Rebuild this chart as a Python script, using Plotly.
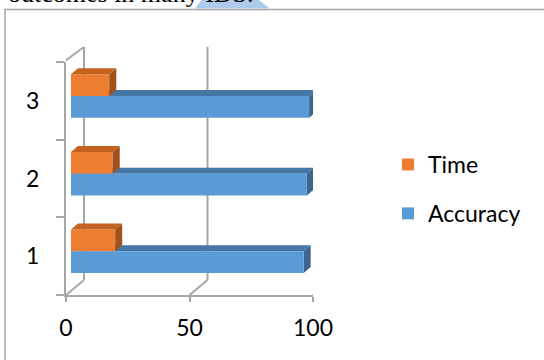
import plotly.graph_objects as go

# ---------------- data ----------------
categories = [1, 2, 3]
cat_labels = ["1", "2", "3"]
accuracy = [94.2, 95.5, 96.4]
time_vals = [17.9, 16.9, 15.5]
x_ticks = [0, 50, 100]
x_tick_labels = ["0", "50", "100"]

# ---------------- geometry ----------------
W, H = 544, 360
L, R, T, B = 66, 313, 62, 295          # plot area in pixels
XR = (0, 100)
YR = (0.5, 3.5)
sx = (R - L) / (XR[1] - XR[0])          # px per x unit
sy = (B - T) / (YR[1] - YR[0])          # px per y unit


def px(xp):
    return (xp - L) / (R - L)


def py(yp):
    return (B - yp) / (B - T)


BAR_SHIFT = 5 / sx        # bars sit a little behind the front plane
BAR_W = 0.28
TIME_OFF = 0.062
ACC_OFF = TIME_OFF - BAR_W
DX, DY = 7, 6             # bar depth (px)
WALL_DX, WALL_DY = 18, 15  # wall depth (px)
GRID = "#A6A6A6"
FONT = "Lato"

fig = go.Figure()

fig.add_trace(go.Bar(
    name="Time", y=categories, x=time_vals, orientation="h",
    xaxis="x2", yaxis="y", offset=TIME_OFF, width=BAR_W,
    marker=dict(color="#ED7D31", line=dict(width=0)),
    legendgroup="time", hoverinfo="skip"))
fig.add_trace(go.Bar(
    name="Accuracy", y=categories, x=accuracy, orientation="h",
    xaxis="x2", yaxis="y", offset=ACC_OFF, width=BAR_W,
    marker=dict(color="#5B9BD5", line=dict(width=0)),
    legendgroup="acc", hoverinfo="skip"))

shapes = []

# chart frame
shapes.append(dict(type="rect", xref="paper", yref="paper",
                   x0=px(5), x1=px(W + 20), y0=py(9.5), y1=py(H + 20),
                   line=dict(color="#A6A6A6", width=1.5), fillcolor="rgba(0,0,0,0)",
                   layer="below"))

# document highlight above the chart
shapes.append(dict(type="path", xref="paper", yref="paper",
                   path="M {},{} L {},{} L {},{} L {},{} Z".format(
                       px(195), py(8.5), px(203), py(-2), px(256), py(-2), px(270), py(8.5)),
                   fillcolor="#AFCBEB", line=dict(width=0), layer="below"))

# back wall / floor lines
wdx = WALL_DX / sx
for v in x_ticks:
    shapes.append(dict(type="line", xref="x", yref="paper",
                       x0=v + wdx, x1=v + wdx, y0=py(B - WALL_DY), y1=py(T - WALL_DY),
                       line=dict(color=GRID, width=2), layer="below"))
    shapes.append(dict(type="line", xref="x", yref="paper",
                       x0=v, x1=v + wdx, y0=py(B), y1=py(B - WALL_DY),
                       line=dict(color=GRID, width=2), layer="below"))
shapes.append(dict(type="line", xref="x", yref="paper",
                   x0=XR[0] - 1, x1=XR[0] + wdx, y0=py(T), y1=py(T - WALL_DY),
                   line=dict(color=GRID, width=2), layer="below"))

# 3D faces of bars
dxu = DX / sx
dyu = DY / sy


def faces(vals, off, top_col, side_col, layer):
    out = []
    for c, v in zip(categories, vals):
        y0 = c + off
        y1 = c + off + BAR_W
        top = "M {},{} L {},{} L {},{} L {},{} Z".format(
            0, y1, v, y1, v + dxu, y1 + dyu, dxu, y1 + dyu)
        side = "M {},{} L {},{} L {},{} L {},{} Z".format(
            v, y0, v, y1, v + dxu, y1 + dyu, v + dxu, y0 + dyu)
        out.append(dict(type="path", xref="x2", yref="y", path=top,
                        fillcolor=top_col, line=dict(width=0), layer=layer))
        out.append(dict(type="path", xref="x2", yref="y", path=side,
                        fillcolor=side_col, line=dict(width=0), layer=layer))
    return out


shapes += faces(accuracy, ACC_OFF, "#4676A6", "#3A6690", "below")
shapes += faces(time_vals, TIME_OFF, "#C4621F", "#A0521C", "above")

annotations = [dict(
    text="outcomes in many IDS.", xref="paper", yref="paper",
    x=px(6), y=py(-7), xanchor="left", yanchor="middle", showarrow=False,
    font=dict(family="Liberation Serif", size=26, color="#000000"))]

fig.update_layout(
    width=W, height=H,
    margin=dict(l=L, r=W - R, t=T, b=H - B, pad=0),
    paper_bgcolor="white", plot_bgcolor="rgba(0,0,0,0)",
    barmode="overlay",
    font=dict(family=FONT, size=23, color="#000000"),
    xaxis=dict(range=list(XR), tickvals=x_ticks, ticktext=x_tick_labels,
               showgrid=False, zeroline=False, showline=True, linecolor=GRID,
               linewidth=2, ticks="outside", ticklen=5, tickcolor=GRID, tickwidth=2,
               ticklabelstandoff=6,
               tickfont=dict(family=FONT, size=23, color="#000000"),
               fixedrange=True),
    xaxis2=dict(range=[XR[0] - BAR_SHIFT, XR[1] - BAR_SHIFT], overlaying="x",
                anchor="y", visible=False, fixedrange=True),
    yaxis=dict(range=list(YR), tickvals=categories, ticktext=cat_labels,
               showgrid=False, zeroline=False, showline=True, linecolor=GRID,
               linewidth=2, ticks="", ticklabelstandoff=20,
               minor=dict(tickvals=[0.5, 1.5, 2.5, 3.5], ticks="outside", ticklen=8,
                          tickcolor=GRID, tickwidth=2, showgrid=False),
               tickfont=dict(family=FONT, size=23, color="#000000"),
               fixedrange=True),
    legend=dict(x=px(388), y=py(143), xanchor="left", yanchor="top",
                traceorder="grouped", tracegroupgap=16,
                font=dict(family=FONT, size=23, color="#000000"),
                bgcolor="rgba(0,0,0,0)"),
    shapes=shapes,
    annotations=annotations,
    showlegend=True,
)

fig.write_html("out.html")
